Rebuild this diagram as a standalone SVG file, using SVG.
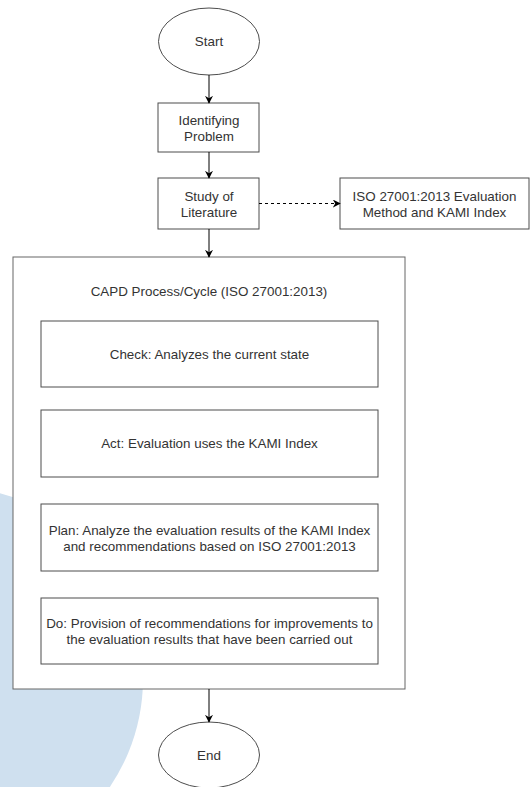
<svg xmlns="http://www.w3.org/2000/svg" width="530" height="787" viewBox="0 0 530 787">
<style>
.bg{fill:#ffffff}
.shape{fill:#ffffff;stroke:#4d4d4d;stroke-width:1}
.frame{fill:#ffffff;stroke:#666666;stroke-width:1}
.lbl{font-family:"Liberation Sans",Arial,sans-serif;font-size:13.4px;fill:#333333;text-anchor:middle}
.edge{fill:none;stroke:#000000;stroke-width:1}
.dash{stroke-dasharray:3 3}
</style>
<defs>
<marker id="arr" viewBox="0 0 10 10" refX="9" refY="5" markerWidth="8" markerHeight="8" markerUnits="userSpaceOnUse" orient="auto">
<path d="M0,0 L10,5 L0,10 L3,5 z" fill="#000000"/>
</marker>
</defs>
<rect class="bg" x="0" y="0" width="530" height="787"/>
<circle cx="-49" cy="679" r="192" fill="#cfe0ef"/>
<g id="container">
<rect class="frame" x="13" y="257" width="392" height="432"/>
<text class="lbl" x="209" y="296">CAPD Process/Cycle (ISO 27001:2013)</text>
</g>
<g id="start">
<ellipse class="shape" cx="209" cy="41.5" rx="50.5" ry="33.5"/>
<text class="lbl" x="209" y="46">Start</text>
</g>
<g id="identifying">
<rect class="shape" x="158" y="103" width="101" height="49"/>
<text class="lbl" x="209" y="124.5">Identifying</text>
<text class="lbl" x="209" y="140.5">Problem</text>
</g>
<g id="study">
<rect class="shape" x="158" y="178" width="101" height="51"/>
<text class="lbl" x="209" y="200.5">Study of</text>
<text class="lbl" x="209" y="216.5">Literature</text>
</g>
<g id="iso">
<rect class="shape" x="340" y="178" width="189" height="51"/>
<text class="lbl" x="434.5" y="200.5">ISO 27001:2013 Evaluation</text>
<text class="lbl" x="434.5" y="216.5">Method and KAMI Index</text>
</g>
<g id="check">
<rect class="shape" x="41" y="321" width="337" height="66"/>
<text class="lbl" x="209.5" y="358.5">Check: Analyzes the current state</text>
</g>
<g id="act">
<rect class="shape" x="41" y="410" width="337" height="67"/>
<text class="lbl" x="209.5" y="448">Act: Evaluation uses the KAMI Index</text>
</g>
<g id="plan">
<rect class="shape" x="41" y="504" width="337" height="67"/>
<text class="lbl" x="209.5" y="534.5">Plan: Analyze the evaluation results of the KAMI Index</text>
<text class="lbl" x="209.5" y="550.5">and recommendations based on ISO 27001:2013</text>
</g>
<g id="do">
<rect class="shape" x="41" y="598" width="337" height="66"/>
<text class="lbl" x="209.5" y="627.5">Do: Provision of recommendations for improvements to</text>
<text class="lbl" x="209.5" y="643.5">the evaluation results that have been carried out</text>
</g>
<g id="end">
<ellipse class="shape" cx="209" cy="755" rx="50.5" ry="33"/>
<text class="lbl" x="209" y="760">End</text>
</g>
<g id="connectors">
<line class="edge" x1="209" y1="75" x2="209" y2="103" marker-end="url(#arr)"/>
<line class="edge" x1="209" y1="152" x2="209" y2="178" marker-end="url(#arr)"/>
<line class="edge" x1="209" y1="229" x2="209" y2="257" marker-end="url(#arr)"/>
<line class="edge dash" x1="259" y1="203.5" x2="340" y2="203.5" marker-end="url(#arr)"/>
<line class="edge" x1="209" y1="689" x2="209" y2="722" marker-end="url(#arr)"/>
</g>
</svg>
